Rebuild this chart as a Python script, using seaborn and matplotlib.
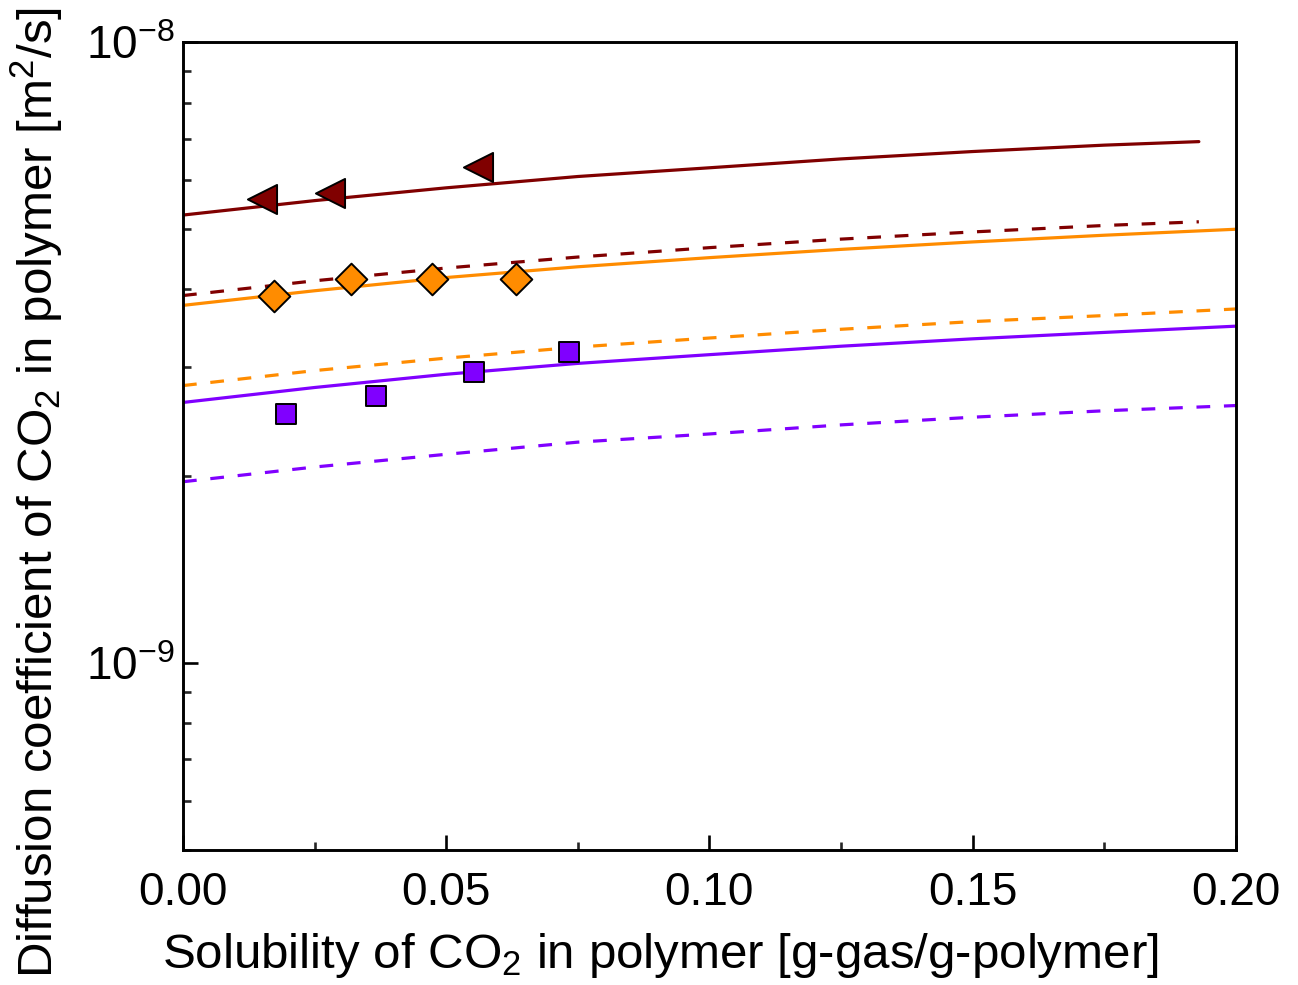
import numpy as np
import pandas as pd
import matplotlib
matplotlib.use("Agg")
import matplotlib.pyplot as plt
import matplotlib.ticker as mticker
import seaborn as sns

# ---- data ----
x_grid = [0.0, 0.025, 0.05, 0.075, 0.10, 0.125, 0.15, 0.175, 0.20]
x_grid_short = [0.0, 0.025, 0.05, 0.075, 0.10, 0.125, 0.15, 0.175, 0.193]

red_solid = [5.27e-9, 5.56e-9, 5.83e-9, 6.08e-9, 6.28e-9, 6.49e-9, 6.67e-9, 6.83e-9, 6.92e-9]
red_dashed = [3.91e-9, 4.13e-9, 4.33e-9, 4.51e-9, 4.67e-9, 4.82e-9, 4.95e-9, 5.07e-9, 5.14e-9]
orange_solid = [3.77e-9, 3.98e-9, 4.18e-9, 4.35e-9, 4.50e-9, 4.64e-9, 4.77e-9, 4.89e-9, 5.00e-9]
orange_dashed = [2.80e-9, 2.96e-9, 3.10e-9, 3.23e-9, 3.34e-9, 3.45e-9, 3.55e-9, 3.63e-9, 3.72e-9]
purple_solid = [2.63e-9, 2.78e-9, 2.92e-9, 3.04e-9, 3.14e-9, 3.24e-9, 3.33e-9, 3.41e-9, 3.49e-9]
purple_dashed = [1.96e-9, 2.07e-9, 2.17e-9, 2.27e-9, 2.34e-9, 2.42e-9, 2.49e-9, 2.55e-9, 2.60e-9]

red_pts_x = [0.015, 0.028, 0.056]
red_pts_y = [5.60e-9, 5.71e-9, 6.30e-9]
orange_pts_x = [0.0173, 0.0319, 0.0473, 0.0633]
orange_pts_y = [3.91e-9, 4.15e-9, 4.15e-9, 4.15e-9]
purple_pts_x = [0.0196, 0.0366, 0.0553, 0.0734]
purple_pts_y = [2.52e-9, 2.69e-9, 2.94e-9, 3.17e-9]

RED = "#800000"
ORANGE = "#FF8C00"
PURPLE = "#8000FF"

sns.set_theme(style="white")
plt.rcParams["font.family"] = ["Liberation Sans", "DejaVu Sans"]
plt.rcParams["mathtext.fontset"] = "custom"
plt.rcParams["mathtext.rm"] = "Liberation Sans"
plt.rcParams["mathtext.it"] = "Liberation Sans:italic"
plt.rcParams["mathtext.bf"] = "Liberation Sans:bold"
plt.rcParams["axes.unicode_minus"] = False

fig = plt.figure(figsize=(12.98, 9.85), dpi=100)
ax = fig.add_axes([0.141, 0.137, 0.811, 0.820])

lw = 2.3
dash = (0, (4.3, 4.3))
series = [
    (x_grid_short, red_solid, RED, "-"),
    (x_grid_short, red_dashed, RED, dash),
    (x_grid, orange_solid, ORANGE, "-"),
    (x_grid, orange_dashed, ORANGE, dash),
    (x_grid, purple_solid, PURPLE, "-"),
    (x_grid, purple_dashed, PURPLE, dash),
]
for xs, ys, c, ls in series:
    df = pd.DataFrame({"x": xs, "y": ys})
    sns.lineplot(data=df, x="x", y="y", ax=ax, color=c, linestyle=ls,
                 linewidth=lw, estimator=None, sort=False)

pts = [
    (red_pts_x, red_pts_y, RED, "<", 440),
    (orange_pts_x, orange_pts_y, ORANGE, "D", 260),
    (purple_pts_x, purple_pts_y, PURPLE, "s", 225),
]
for xs, ys, c, m, s in pts:
    df = pd.DataFrame({"x": xs, "y": ys})
    sns.scatterplot(data=df, x="x", y="y", ax=ax, color=c, marker=m, s=s,
                    edgecolor="black", linewidth=1.4, zorder=5)

ax.set_yscale("log")
ax.set_xlim(0, 0.20)
ax.set_ylim(5e-10, 1e-8)

ax.xaxis.set_major_locator(mticker.MultipleLocator(0.05))
ax.xaxis.set_minor_locator(mticker.MultipleLocator(0.025))
ax.xaxis.set_major_formatter(mticker.FormatStrFormatter("%.2f"))
ax.yaxis.set_major_locator(mticker.LogLocator(base=10, numticks=10))
ax.yaxis.set_minor_locator(mticker.LogLocator(base=10, subs=np.arange(2, 10), numticks=20))
ax.yaxis.set_minor_formatter(mticker.NullFormatter())

for sp in ax.spines.values():
    sp.set_linewidth(2.1)
    sp.set_color("black")

ax.tick_params(axis="both", which="major", direction="in", length=11, width=1.9,
               labelsize=33, colors="black", top=False, right=False,
               left=True, bottom=True)
ax.tick_params(axis="both", which="minor", direction="in", length=5.5, width=1.9,
               top=False, right=False, left=True, bottom=True)
ax.tick_params(axis="x", which="major", pad=15)
ax.tick_params(axis="y", which="major", pad=6)

ax.set_xlabel(r"Solubility of CO$_2$ in polymer [g-gas/g-polymer]", fontsize=35.5,
              color="black")
ax.set_ylabel(r"Diffusion coefficient of CO$_2$ in polymer [m$^2$/s]", fontsize=35.5,
              color="black")
ax.xaxis.set_label_coords(0.453, -0.100)
ax.yaxis.set_label_coords(-0.112, 0.443)
ax.grid(False)

fig.savefig("out.png", dpi=100, facecolor="white")
